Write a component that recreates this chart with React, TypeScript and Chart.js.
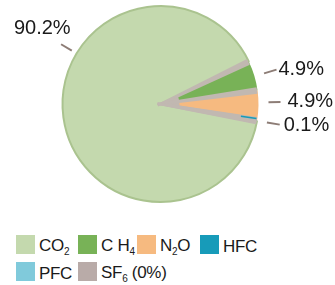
import React, { useEffect, useRef } from "react";
import { Chart, registerables } from "chart.js";

Chart.register(...registerables);

// ---- data ----
const labels = ["CO₂", "C H₄", "N₂O", "HFC", "PFC", "SF₆ (0%)"];
const values = [90.2, 4.9, 4.9, 0.1, 0, 0];
const colors = ["#c4d9ae", "#78b257", "#f6ba80", "#179bb9", "#80cadb", "#b9aba8"];
const valueLabels = values.map((v) => (v > 0 ? `${v}%` : ""));

// ---- styles ----
const SEPARATOR = "#c1b8b1";
const LEADER = "#8d7d76";
const TEXT = "#1a1a1a";
const LABEL_FONT = '20px "Liberation Sans", Arial, sans-serif';

type LabelLayout = {
  angle?: number;
  delta?: number;
  from: number;
  to: number;
  textAngle?: number;
  textDist: number;
  align: CanvasTextAlign;
};
const labelLayout: LabelLayout[] = [
  { angle: -149, from: 5.5, to: 18, textAngle: -147.6, textDist: 42, align: "center" },
  { delta: 0.3, from: 10, to: 23, textDist: 25, align: "left" },
  { delta: -1.8, from: 10, to: 22, textDist: 29, align: "left" },
  { delta: 0, from: 10, to: 23, textDist: 27, align: "left" },
  { from: 10, to: 23, textDist: 28, align: "left" },
  { from: 10, to: 23, textDist: 28, align: "left" },
];

const DEG = Math.PI / 180;

const overlayPlugin = {
  id: "overlay",
  afterDatasetsDraw(chart: any) {
    const meta = chart.getDatasetMeta(0);
    const arcs = meta.data as any[];
    if (!arcs.length) return;
    const ctx: CanvasRenderingContext2D = chart.ctx;
    const cx = arcs[0].x;
    const cy = arcs[0].y;
    const r = arcs[0].outerRadius;

    const bounds: number[] = [];
    for (let i = 1; i < arcs.length; i++) {
      if (values[i] > 0) bounds.push(arcs[i].startAngle, arcs[i].endAngle);
    }
    const uniq = bounds.filter((b, i) => bounds.findIndex((c) => Math.abs(c - b) < 1e-6) === i);
    const gStart = Math.min(...uniq);
    const gEnd = Math.max(...uniq);

    ctx.save();
    ctx.fillStyle = SEPARATOR;
    // gray hub where the small slices meet
    ctx.beginPath();
    ctx.moveTo(cx - 3, cy);
    ctx.arc(cx, cy, 19, gStart - 2 * DEG, gEnd + 2 * DEG);
    ctx.closePath();
    ctx.fill();

    // wedge-shaped separators
    uniq.forEach((a) => {
      const c = Math.cos(a);
      const s = Math.sin(a);
      const px = -s;
      const py = c;
      const w0 = 1.2;
      const w1 = 3.3;
      const re = r - 0.5;
      ctx.beginPath();
      ctx.moveTo(cx - 3 * c + px * w0, cy - 3 * s + py * w0);
      ctx.lineTo(cx + re * c + px * w1, cy + re * s + py * w1);
      ctx.lineTo(cx + re * c - px * w1, cy + re * s - py * w1);
      ctx.lineTo(cx - 3 * c - px * w0, cy - 3 * s - py * w0);
      ctx.closePath();
      ctx.fill();
    });

    // thin HFC sliver
    const hfc = arcs[3];
    if (hfc && values[3] > 0) {
      const a = (hfc.startAngle + hfc.endAngle) / 2 - 1.2 * DEG;
      ctx.strokeStyle = colors[3];
      ctx.lineWidth = 1.5;
      ctx.beginPath();
      ctx.moveTo(cx + r * 0.83 * Math.cos(a), cy + r * 0.83 * Math.sin(a));
      ctx.lineTo(cx + (r - 1) * Math.cos(a), cy + (r - 1) * Math.sin(a));
      ctx.stroke();
    }

    // value labels with leaders
    ctx.font = LABEL_FONT;
    ctx.textBaseline = "middle";
    arcs.forEach((arc, i) => {
      if (!(values[i] > 0)) return;
      const L = labelLayout[i];
      const mid = (arc.startAngle + arc.endAngle) / 2;
      const a = L.angle !== undefined ? L.angle * DEG : mid + (L.delta || 0) * DEG;
      const ta = L.textAngle !== undefined ? L.textAngle * DEG : a;
      ctx.strokeStyle = LEADER;
      ctx.lineWidth = 2;
      ctx.beginPath();
      ctx.moveTo(cx + (r + L.from) * Math.cos(a), cy + (r + L.from) * Math.sin(a));
      ctx.lineTo(cx + (r + L.to) * Math.cos(a), cy + (r + L.to) * Math.sin(a));
      ctx.stroke();
      ctx.fillStyle = TEXT;
      ctx.textAlign = L.align;
      ctx.fillText(
        valueLabels[i],
        cx + (r + L.textDist) * Math.cos(ta),
        cy + (r + L.textDist) * Math.sin(ta)
      );
    });
    ctx.restore();
  },
};

const SUBS: Record<string, string> = {
  "₀": "0", "₁": "1", "₂": "2", "₃": "3", "₄": "4",
  "₅": "5", "₆": "6", "₇": "7", "₈": "8", "₉": "9",
};

function renderLabel(s: string) {
  const parts: React.ReactNode[] = [];
  let buf = "";
  Array.from(s).forEach((ch, i) => {
    if (SUBS[ch]) {
      if (buf) parts.push(buf);
      buf = "";
      parts.push(
        <span key={i} style={{ fontSize: "10px", position: "relative", top: "4px" }}>
          {SUBS[ch]}
        </span>
      );
    } else {
      buf += ch;
    }
  });
  if (buf) parts.push(buf);
  return parts;
}

export default function App() {
  const ref = useRef<HTMLCanvasElement>(null);

  useEffect(() => {
    if (!ref.current) return;
    const chart = new Chart(ref.current, {
      type: "pie",
      data: {
        labels,
        datasets: [
          {
            data: values,
            backgroundColor: colors,
            borderColor: ["#aac38f", ...colors.slice(1)],
            borderWidth: [2, 0, 0, 0, 0, 0],
          },
        ],
      },
      options: {
        responsive: false,
        animation: false,
        devicePixelRatio: 1,
        rotation: 100,
        radius: 98,
        events: [],
        layout: { padding: { left: 63, right: 77, top: 6, bottom: 13 } },
        plugins: {
          legend: { display: false },
          tooltip: { enabled: false },
        },
      } as any,
      plugins: [overlayPlugin],
    });
    return () => chart.destroy();
  }, []);

  return (
    <div
      style={{
        position: "absolute",
        left: 0,
        top: 0,
        width: 335,
        height: 285,
        background: "#ffffff",
        overflow: "hidden",
      }}
    >
      <canvas ref={ref} width={335} height={215} style={{ display: "block", width: 335, height: 215 }} />
      <div
        style={{
          position: "absolute",
          left: 16,
          top: 235,
          display: "grid",
          gridTemplateColumns: "62px 59px 63px 70px",
          rowGap: "8px",
          fontFamily: '"Liberation Sans", Arial, sans-serif',
          fontSize: "17px",
          color: TEXT,
        }}
      >
        {labels.map((lab, i) => (
          <div key={lab} style={{ display: "flex", alignItems: "center", height: 19 }}>
            <div style={{ width: 19, height: 19, background: colors[i], flex: "0 0 auto" }} />
            <span
              style={{
                marginLeft: 4,
                position: "relative",
                top: 2,
                lineHeight: "19px",
                whiteSpace: "nowrap",
                letterSpacing: "-0.3px",
              }}
            >
              {renderLabel(lab)}
            </span>
          </div>
        ))}
      </div>
    </div>
  );
}
